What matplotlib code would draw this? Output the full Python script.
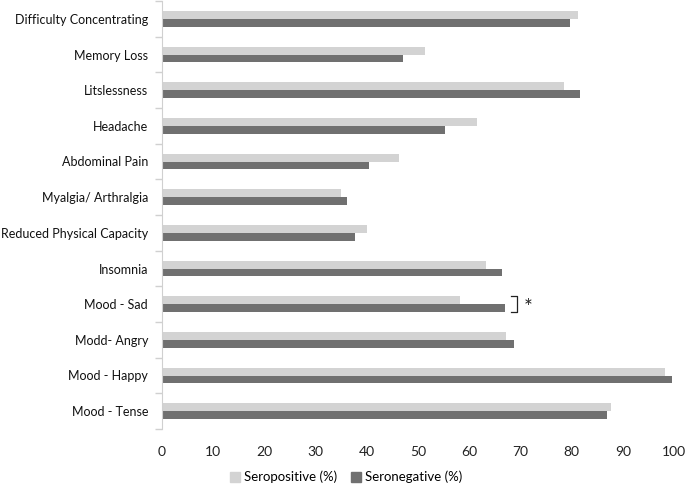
import matplotlib
matplotlib.use("Agg")
import matplotlib.pyplot as plt
import numpy as np
from matplotlib.patches import Patch

categories = ["Difficulty Concentrating", "Memory Loss", "Litslessness", "Headache",
              "Abdominal Pain", "Myalgia/ Arthralgia", "Reduced Physical Capacity",
              "Insomnia", "Mood - Sad", "Modd- Angry", "Mood - Happy", "Mood - Tense"]
seropositive = [81.3, 51.4, 78.5, 61.6, 46.3, 35.0, 40.1, 63.3, 58.2, 67.2, 98.3, 87.6]
seronegative = [79.6, 47.0, 81.7, 55.3, 40.5, 36.1, 37.7, 66.5, 66.9, 68.7, 99.6, 86.9]
x_ticks = [0, 10, 20, 30, 40, 50, 60, 70, 80, 90, 100]

plt.rcParams['font.family'] = ['Lato', 'DejaVu Sans']
light = "#d3d3d3"
dark = "#707070"

fig = plt.figure(figsize=(6.85, 4.87), dpi=100)
ax = fig.add_axes([162/685, 1-429/487, (674-162)/685, 428/487])

n = len(categories)
y = np.arange(n)
h = 0.215
ax.barh(y - h/2, seropositive, height=h, color=light, label="Seropositive (%)")
ax.barh(y + h/2, seronegative, height=h, color=dark, label="Seronegative (%)")

ax.set_xlim(0, 100)
ax.set_ylim(n - 0.5, -0.5)
ax.set_xticks(x_ticks)
ax.set_xticklabels([str(t) for t in x_ticks], fontsize=10, color="#222222")
ax.tick_params(axis='x', length=0, pad=12)

ax.set_yticks(y)
ax.set_yticklabels(categories, fontsize=9.0, color="#111111")
ax.tick_params(axis='y', which='major', length=0, pad=10)
ax.set_yticks(np.arange(-0.5, n, 1.0), minor=True)
ax.tick_params(axis='y', which='minor', length=5, color="#d0d0d0", width=1)

for s in ["top", "right", "bottom"]:
    ax.spines[s].set_visible(False)
ax.spines["left"].set_color("#d0d0d0")

# significance bracket for Mood - Sad
i = categories.index("Mood - Sad")
bx = 69.4
ax.plot([bx - 1.2, bx, bx, bx - 1.2], [i - h, i - h, i + h, i + h], color="#222222", lw=0.9)
ax.text(bx + 1.2, i + 0.12, "*", fontsize=15, va="center", ha="left", color="#222222")

handles = [Patch(color=light, label="Seropositive (%)"), Patch(color=dark, label="Seronegative (%)")]
fig.legend(handles=handles, loc="center", bbox_to_anchor=(346/685, 1-477/487), ncol=2,
           frameon=False, fontsize=9.5, handlelength=0.8, handleheight=0.8,
           handletextpad=0.3, columnspacing=1.0)

fig.savefig("out.png", dpi=100)
